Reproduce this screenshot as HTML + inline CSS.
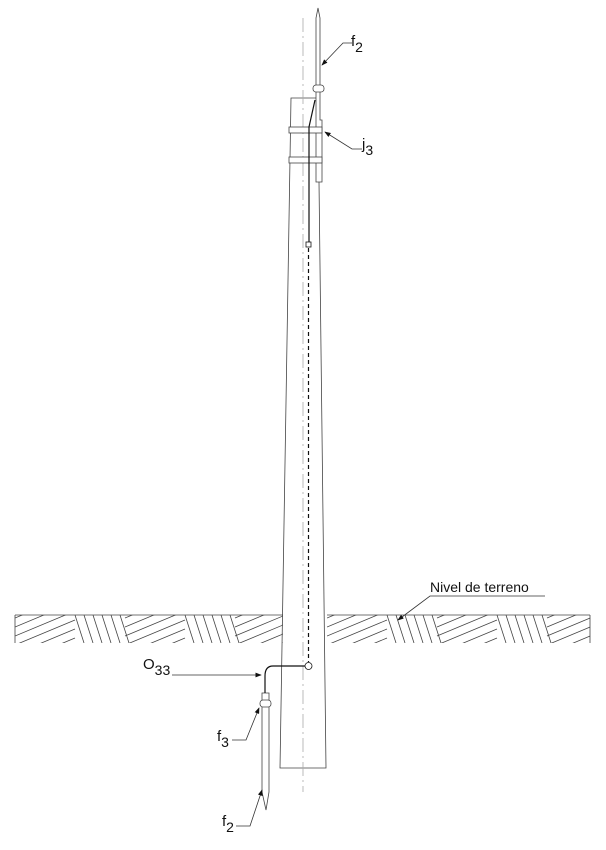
<!DOCTYPE html>
<html><head><meta charset="utf-8"><style>html,body{margin:0;padding:0;background:#fff}svg{display:block}text{font-family:"Liberation Sans",sans-serif;fill:#111}</style></head>
<body>
<svg id="s" width="606" height="850" viewBox="0 0 606 850" xmlns="http://www.w3.org/2000/svg">
<defs>
<clipPath id="gl"><rect x="15" y="615" width="268" height="28"/></clipPath>
<clipPath id="gr"><rect x="327" y="615" width="263" height="28"/></clipPath>
<marker id="ar" markerWidth="8" markerHeight="6" refX="7" refY="3" orient="auto"><path d="M0,0 L8,3 L0,6z" fill="#111"/></marker>
</defs>
<g stroke="#444" stroke-width="0.8" fill="none">
<path d="M291,98 L318,98 L326,768 L280,768 Z" fill="#fff"/>
<line x1="303" y1="18" x2="303" y2="792" stroke="#aaa" stroke-dasharray="14,4,2,4"/>
<path d="M316,182 L316,18 L318,8 L320,18 L320,120 L322,120 L322,182 Z" fill="#fff"/>
<rect x="313" y="85" width="11" height="7" rx="3" fill="#fff"/>
<rect x="289" y="127" width="33" height="6" fill="#fff"/>
<rect x="289" y="157" width="33" height="6" fill="#fff"/>
<line x1="15" y1="615" x2="283" y2="615"/>
<line x1="327" y1="615" x2="590" y2="615"/>
<line x1="15" y1="615" x2="15" y2="643"/>
<line x1="590" y1="615" x2="590" y2="643"/>
<g id="hl" clip-path="url(#gl)"></g>
<g id="hr" clip-path="url(#gr)"></g>
<path d="M262,693 L262,792 L266,810 L269,792 L269,693 Z" fill="#fff"/>
<rect x="260" y="700" width="11" height="7" rx="3" fill="#fff"/>
</g>
<g stroke="#111" fill="none" stroke-width="1.2">
<path d="M315,100 L309,127 L309,242"/>
<rect x="306" y="242" width="5" height="5" stroke-width="0.8" fill="#fff"/>
<line x1="308.5" y1="248" x2="308.5" y2="662" stroke-dasharray="4,3"/>
<circle cx="308.5" cy="666" r="3.5" stroke-width="0.8" fill="#fff"/>
<path d="M305,666 L273,666 Q265,666 265,676 L265,693"/>
</g>
<g stroke="#333" stroke-width="0.8" fill="none">
<path d="M352,43 L343,43 L322,65" marker-end="url(#ar)"/>
<path d="M362,149 L352,149 L325,132" marker-end="url(#ar)"/>
<path d="M545,596 L430,596 L398,620" marker-end="url(#ar)"/>
<path d="M172,675 L261,675" marker-end="url(#ar)"/>
<path d="M232,740 L246,740 L259,708" marker-end="url(#ar)"/>
<path d="M236,826 L250,826 L262,790" marker-end="url(#ar)"/>
</g>
<text x="351" y="46" font-size="15">f<tspan font-size="14" dy="6">2</tspan></text>
<text x="362" y="149" font-size="15">j<tspan font-size="14" dy="6">3</tspan></text>
<text x="430" y="592" font-size="14">Nivel de terreno</text>
<text x="143" y="669" font-size="15">O<tspan font-size="14" dy="6">33</tspan></text>
<text x="217" y="741" font-size="15">f<tspan font-size="14" dy="6">3</tspan></text>
<text x="222" y="826" font-size="15">f<tspan font-size="14" dy="6">2</tspan></text>
</svg>
<script>
function hatch(id,x0,x1){var g=document.getElementById(id),h='',x=x0,k=0;
while(x<x1){if(k%2==0){var w=60;for(var y=600;y<680;y+=9){h+='<line x1="'+x+'" y1="'+y+'" x2="'+(x+w)+'" y2="'+(y-25)+'"/>';}x+=w;}
else{var w=50;for(var i=0;i<w;i+=9){h+='<line x1="'+(x+i)+'" y1="615" x2="'+(x+i+9)+'" y2="643"/>';}x+=w;}k++;}
g.innerHTML=h;}
hatch('hl',15,290);hatch('hr',327,600);
</script>
</body></html>
